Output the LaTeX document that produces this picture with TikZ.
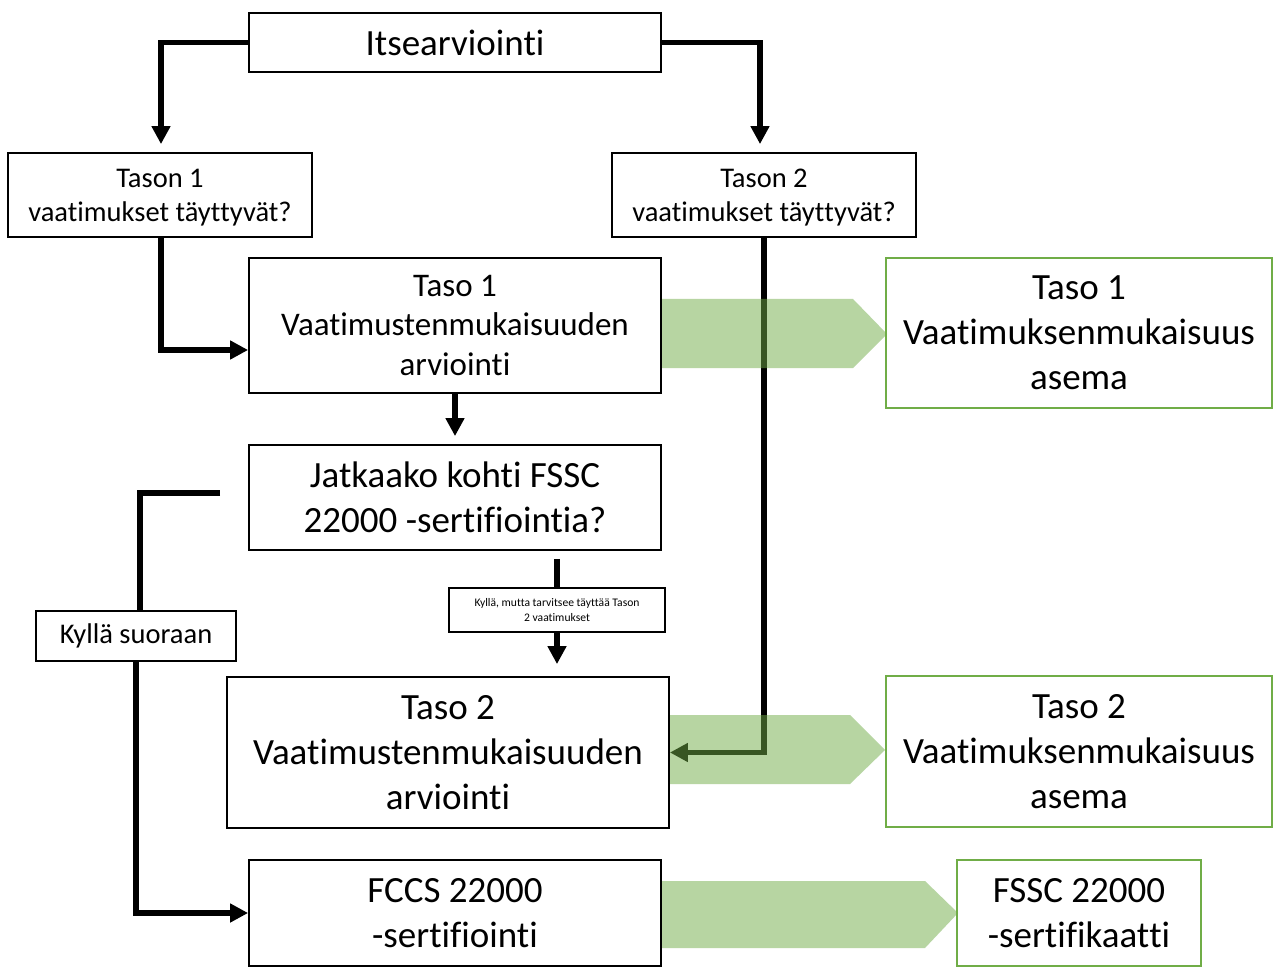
\documentclass[tikz,border=0pt]{standalone}
\usepackage{fontspec}
\setmainfont{Carlito}[Ligatures={NoCommon}]
\usetikzlibrary{arrows.meta,calc}
\definecolor{ogreen}{RGB}{112,173,71}
\newcommand\nb{\kern0pt }
\begin{document}
\begin{tikzpicture}[x=0.5pt,y=-0.5pt,
 box/.style={draw=black,line width=0.9pt,fill=white,inner sep=0pt,align=center},
 gbox/.style={draw=ogreen,line width=1.3pt,fill=white,inner sep=0pt,align=center},
 fbig/.style={font=\fontsize{18.5pt}{22.5pt}\selectfont},
 fmid/.style={font=\fontsize{16.5pt}{19.75pt}\selectfont},
 fsml/.style={font=\fontsize{14.25pt}{17pt}\selectfont},
 ftiny/.style={font=\fontsize{5.8pt}{7.5pt}\selectfont},
 conn/.style={line width=2.6pt,-{Triangle[length=9pt,width=9pt]}},
 seg/.style={line width=2.6pt},
 band/.style={fill=ogreen,fill opacity=0.5,draw=none}]
\useasboundingbox (0,0) rectangle (1274,968);
\fill[white] (0,0) rectangle (1274,968);

% boxes
\node[box,fbig,minimum width=206pt,minimum height=29.5pt] (itse) at (455,42.5) {Itsearvioint\nb i};
\node[box,fsml,minimum width=152pt,minimum height=42pt] (t1q) at (160,195) {\raisebox{-1.5pt}[\height][\depth]{\parbox{150pt}{\centering Tason 1\\vaat\nb imukset täyt\nb tyvät?}}};
\node[box,fsml,minimum width=152pt,minimum height=42pt] (t2q) at (764,195) {\raisebox{-1.5pt}[\height][\depth]{\parbox{150pt}{\centering Tason 2\\vaat\nb imukset täyt\nb tyvät?}}};
\node[box,fmid,minimum width=206pt,minimum height=67.5pt] (t1a) at (455,325.5) {Taso 1\\Vaat\nb imustenmukaisuuden\\arvioint\nb i};
\node[gbox,fbig,minimum width=193pt,minimum height=75pt] (g1) at (1079,333) {Taso 1\\Vaat\nb imuksenmukaisuus\\asema};
\node[box,fbig,minimum width=206pt,minimum height=52.5pt] (jat) at (455,497.5) {Jatkaako koht\nb i FSSC\\22000 -sertif\nb ioint\nb ia?};
\node[box,ftiny,minimum width=108pt,minimum height=22pt] (sml) at (557,610) {Kyllä, mutta tarvitsee täyt\nb tää Tason\\2 vaat\nb imukset};
\node[box,fsml,minimum width=100pt,minimum height=25pt] (kyl) at (136,636) {Kyllä suoraan};
\node[box,fbig,minimum width=221pt,minimum height=75.5pt] (t2a) at (448,752.5) {Taso 2\\Vaat\nb imustenmukaisuuden\\arvioint\nb i};
\node[gbox,fbig,minimum width=193pt,minimum height=75.5pt] (g2) at (1079,751.5) {Taso 2\\Vaat\nb imuksenmukaisuus\\asema};
\node[box,fbig,minimum width=206pt,minimum height=53pt] (fccs) at (455,913) {FCCS 22000\\-sertif\nb ioint\nb i};
\node[gbox,fbig,minimum width=122pt,minimum height=53pt] (g3) at (1079,913) {FSSC 22000\\-sertif\nb ikaat\nb t\nb i};

% connectors
\draw[conn,shorten >=4pt] (itse.west) -| ([xshift=0.5pt]t1q.north);
\draw[conn,shorten >=4pt] (itse.east) -| ([xshift=-2pt]t2q.north);
\draw[conn] ([xshift=0.5pt]t1q.south) |- ([yshift=-12.25pt]t1a.west);
\draw[conn] (t2q.south) |- (t2a.east);
\draw[conn,shorten >=4pt] (t1a.south) -- (jat.north);
\draw[seg] ([xshift=-14pt,yshift=2.25pt]jat.west) -| ([xshift=2pt]kyl.north);
\draw[conn] (kyl.south) |- (fccs.west);
\draw[seg] ([yshift=-4pt]jat.south -| sml.north) -- (sml.north);
\draw[conn,shorten >=6pt] (sml.south) -- (sml.south |- t2a.north);

% green block arrows
\path[band] (662,299) -- (853,299) -- (887,334) -- (853,368) -- (662,368) -- cycle;
\path[band] (670,715) -- (850,715) -- (885,750) -- (850,784) -- (670,784) -- cycle;
\path[band] (662,881) -- (925,881) -- (958,913) -- (925,948) -- (662,948) -- cycle;
\end{tikzpicture}
\end{document}
